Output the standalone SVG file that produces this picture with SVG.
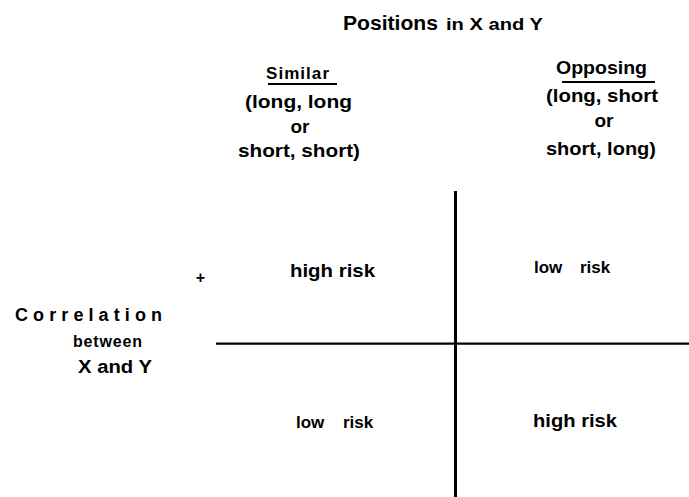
<svg xmlns="http://www.w3.org/2000/svg" width="689" height="497" viewBox="0 0 689 497">
<style>
text{font-family:"Liberation Sans",Arial,Helvetica,sans-serif;font-weight:bold;fill:#000}
.h{font-size:19px}
.m{font-size:18px}
.s{font-size:17px}
.c{text-anchor:middle}
.ax{stroke:#000;fill:none}
</style>
<rect width="689" height="497" fill="#fff"/>
<g id="title">
<text x="343" y="30" font-size="20" textLength="95" lengthAdjust="spacingAndGlyphs">Positions</text>
<text x="446" y="30" font-size="17" textLength="97" lengthAdjust="spacingAndGlyphs">in X and Y</text>
</g>
<g id="col-similar">
<text x="266" y="79" class="s" textLength="63" lengthAdjust="spacing">Similar</text>
<line x1="268" y1="84" x2="337" y2="84" stroke="#000" stroke-width="2"/>
<text x="245" y="108" class="h" textLength="107" lengthAdjust="spacingAndGlyphs">(long,  long</text>
<text x="300" y="133" class="h c">or</text>
<text x="238" y="157" class="h" textLength="122" lengthAdjust="spacingAndGlyphs">short,  short)</text>
</g>
<g id="col-opposing">
<text x="556" y="74" class="h" textLength="91" lengthAdjust="spacingAndGlyphs">Opposing</text>
<line x1="562" y1="82" x2="655" y2="82" stroke="#000" stroke-width="2"/>
<text x="546" y="102" class="h" textLength="112" lengthAdjust="spacingAndGlyphs">(long,  short</text>
<text x="604" y="127" class="h c">or</text>
<text x="546" y="155" class="h" textLength="110" lengthAdjust="spacingAndGlyphs">short,  long)</text>
</g>
<g id="row-label">
<text x="15" y="321" class="m" textLength="147" lengthAdjust="spacing">Correlation</text>
<text x="73" y="347" font-size="16" textLength="69" lengthAdjust="spacing">between</text>
<text x="78" y="373" class="m" textLength="74" lengthAdjust="spacingAndGlyphs">X and Y</text>
<text x="200.5" y="283" font-size="16" class="c">+</text>
</g>
<g id="axes">
<line class="ax" x1="455.5" y1="191" x2="455.5" y2="497" stroke-width="3"/>
<line class="ax" x1="216" y1="343.7" x2="689" y2="343.7" stroke-width="2.3"/>
</g>
<g id="q-top-left">
<text x="290" y="277" class="h" textLength="85" lengthAdjust="spacingAndGlyphs">high risk</text>
</g>
<g id="q-top-right">
<text x="534" y="273" class="s">low <tspan x="580">risk</tspan></text>
</g>
<g id="q-bottom-left">
<text x="296" y="428" class="s">low <tspan x="343">risk</tspan></text>
</g>
<g id="q-bottom-right">
<text x="533" y="427" class="h" textLength="84" lengthAdjust="spacingAndGlyphs">high risk</text>
</g>
</svg>
